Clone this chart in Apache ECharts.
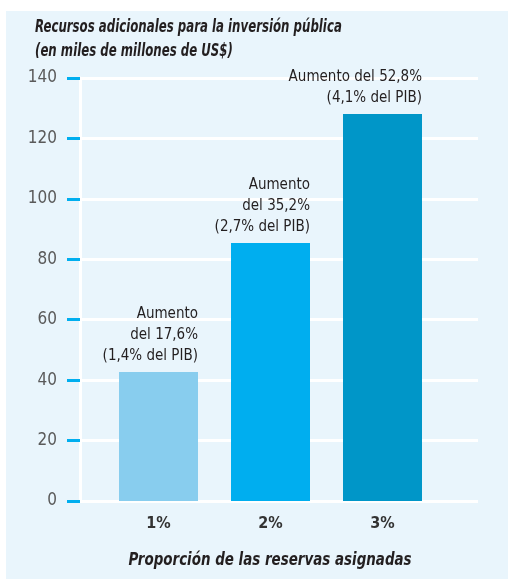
<!DOCTYPE html>
<html>
<head>
<meta charset="utf-8">
<script src="https://cdn.jsdelivr.net/npm/echarts@6/dist/echarts.min.js"></script>
<style>
  html, body { margin: 0; padding: 0; background: #ffffff; }
  #chart { position: absolute; left: 6px; top: 11px; width: 502px; height: 568px; background: #e9f5fc; }
</style>
</head>
<body>
<div id="chart"></div>
<script>
// Share of reserves allocated and the extra public-investment resources (US$ billions)
const categories = ['1%', '2%', '3%'];
const values = [42.7, 85.4, 128.1];
const increaseLabels = [
  'Aumento\ndel 17,6%\n(1,4% del PIB)',
  'Aumento\ndel 35,2%\n(2,7% del PIB)',
  'Aumento del 52,8%\n(4,1% del PIB)'
];
const yTicks = [0, 20, 40, 60, 80, 100, 120, 140];
const barColors = ['#88cdee', '#00aeef', '#0096c8'];

const titleLines = ['Recursos adicionales para la inversión pública', '(en miles de millones de US$)'];
const xName = 'Proporción de las reservas asignadas';

const FONT = "'DejaVu Sans Condensed', 'Liberation Sans Narrow', 'Noto Sans', sans-serif";

const chart = echarts.init(document.getElementById('chart'), null, { renderer: 'canvas' });

const yMin = yTicks[0];
const yMax = yTicks[yTicks.length - 1];
const yStep = yTicks[1] - yTicks[0];

// narrow italic heading text, squeezed horizontally to a condensed width
function headingText(text, x, y, size, align, sx) {
  return {
    type: 'text',
    x: x,
    y: y,
    scaleX: sx,
    style: {
      text: text,
      fill: '#231f20',
      font: 'italic bold ' + size + 'px ' + FONT,
      textAlign: align,
      textVerticalAlign: 'middle'
    }
  };
}

chart.setOption({
  animation: false,
  textStyle: { fontFamily: FONT },
  graphic: [
    headingText(titleLines[0], 29, 17, 17, 'left', 0.77),
    headingText(titleLines[1], 29, 41, 17, 'left', 0.77),
    headingText(xName, 264, 549, 18, 'center', 0.83)
  ],
  grid: [
    { left: 74, right: 30, top: 67, bottom: 78 },
    { left: 96.5, width: 336, top: 67, bottom: 78 }
  ],
  xAxis: [
    { gridIndex: 0, type: 'category', data: categories, show: false },
    {
      gridIndex: 1,
      type: 'category',
      data: categories,
      axisLine: { show: false },
      axisTick: { show: false },
      axisLabel: {
        margin: 15,
        fontFamily: FONT,
        fontWeight: 'bold',
        fontSize: 16,
        color: '#333333'
      }
    }
  ],
  yAxis: [
    {
      gridIndex: 0,
      type: 'value',
      min: yMin,
      max: yMax,
      interval: yStep,
      axisLine: { show: true, lineStyle: { color: '#ffffff', width: 3 } },
      axisTick: { show: true, inside: false, length: 13, lineStyle: { color: '#00aeef', width: 3 } },
      axisLabel: {
        margin: 23,
        fontFamily: FONT,
        fontSize: 17,
        color: '#5a5a5a'
      },
      splitLine: { show: true, lineStyle: { color: '#ffffff', width: 3 } }
    },
    {
      gridIndex: 1,
      type: 'value',
      min: yMin,
      max: yMax,
      interval: yStep,
      show: false
    }
  ],
  series: [
    {
      type: 'bar',
      xAxisIndex: 1,
      yAxisIndex: 1,
      barWidth: 79,
      data: values.map((v, i) => ({
        value: v,
        itemStyle: { color: barColors[i] },
        label: { formatter: increaseLabels[i] }
      })),
      label: {
        show: true,
        position: 'top',
        distance: 5,
        offset: [39.5, 0],
        align: 'right',
        fontFamily: FONT,
        fontSize: 15,
        lineHeight: 21,
        color: '#231f20'
      }
    }
  ]
});
</script>
</body>
</html>
